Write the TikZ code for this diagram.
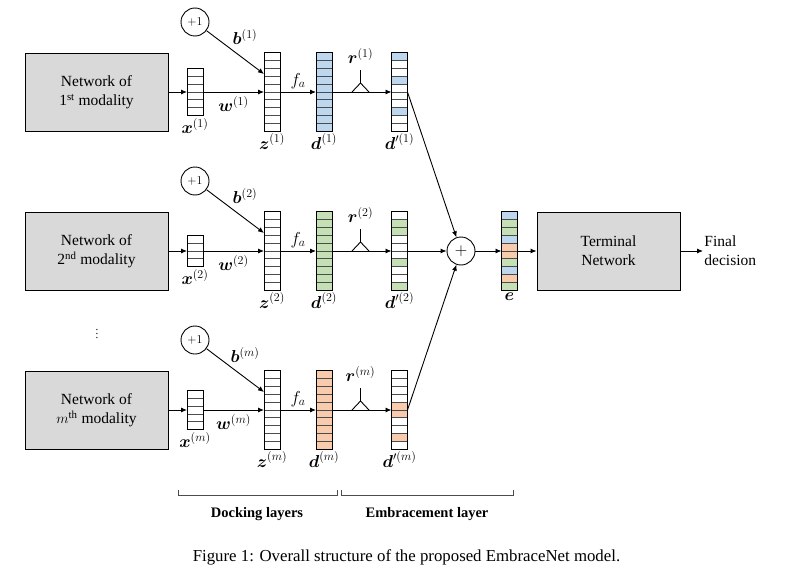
\documentclass[tikz,border=0pt]{standalone}
\usepackage{fontspec}
\setmainfont{Liberation Serif}
\usepackage{amsmath}
\usepackage{bm}
\usetikzlibrary{calc,arrows.meta}

\definecolor{cellblue}{RGB}{189,215,238}
\definecolor{cellgreen}{RGB}{197,224,180}
\definecolor{cellorange}{RGB}{248,203,173}
\definecolor{boxgray}{RGB}{217,217,217}

\begin{document}
\begin{tikzpicture}[x=1pt, y=-1pt, line width=0.9pt, >={Latex[length=6pt,width=5pt]}]
		\tikzstyle{every node}=[align=center, inner sep=1pt, font=\fontsize{15.5}{19}\selectfont]
		\tikzstyle{netbox}=[draw, fill=boxgray, minimum width=143pt, minimum height=78pt]
		\tikzstyle{cellstack}=[minimum width=16pt, inner sep=0pt, outer sep=0pt]
		\tikzstyle{veclabel}=[font=\fontsize{17.5}{20}\selectfont]
		\tikzstyle{biasunit}=[draw, circle, minimum size=28pt, inner sep=0pt, font=\fontsize{12.5}{14}\selectfont]
		\useasboundingbox (0,0) rectangle (789,578);

		\node[draw, circle, minimum size=28pt, inner sep=0pt, veclabel] (plus) at (461, 251) {$+$};

		% one branch per modality: name, height, cells of x, colour, cells kept in d'
		\foreach \br/\by/\nx/\fillc/\keep/\ord in {1/92/6/cellblue/{1,4,8}/{1\textsuperscript{st}},
				2/251/4/cellgreen/{2,3,7,10}/{2\textsuperscript{nd}},
				m/410/5/cellorange/{5,6,9}/{$m$\textsuperscript{th}}} {
			\node[netbox] (net\br) at (96.5, \by) {Network of\\\ord\ modality};
			\node[cellstack, minimum height=\nx*7.9pt] (x\br) at (195, \by) {};
			\node[cellstack, minimum height=79pt] (z\br) at (272, \by) {};
			\node[cellstack, minimum height=79pt, fill=\fillc] (d\br) at (324, \by) {};
			\node[cellstack, minimum height=79pt] (dd\br) at (399.5, \by) {};
			\foreach \c in \keep
				\fill[\fillc] (391.5, {\by-39.5+(\c-1)*7.9}) rectangle (407.5, {\by-39.5+\c*7.9});
			\foreach \s/\n in {x\br/\nx, z\br/10, d\br/10, dd\br/10} {
				\foreach \c in {1,...,\n}
					\draw[black!70] ($(\s.north west)!\c/\n!(\s.south west)$) -- ($(\s.north east)!\c/\n!(\s.south east)$);
				\draw (\s.north west) rectangle (\s.south east);
			}

			\node[biasunit] (one\br) at (195, {\by-70}) {$+1$};
			\coordinate (bin\br) at ($(z\br.west)+(0,-18)$);
			\node[veclabel] (lb\br) at (245, {\by-55}) {$\bm{b}^{(\br)}$};
			\node[veclabel] (lr\br) at (360.5, {\by-36}) {$\bm{r}^{(\br)}$};
			\node[veclabel, below=1pt] (lx\br) at (x\br.south) {$\bm{x}^{(\br)}$};
			\node[veclabel, below=1pt] (lz\br) at (z\br.south) {$\bm{z}^{(\br)}$};
			\node[veclabel, below=1pt] (ld\br) at (d\br.south) {$\bm{d}^{(\br)}$};
			\node[veclabel, below=1pt] (ldd\br) at (dd\br.south) {$\bm{d}'^{(\br)}$};

			\draw [->] (net\br) -- (x\br);
			\draw [->] (x\br) -- node[veclabel, below=3pt] (lw\br) {$\bm{w}^{(\br)}$} (z\br);
			\draw [->] (one\br) -- (bin\br);
			\draw [->] (z\br) -- node[veclabel, above=2pt] (lf\br) {$f_a$} (d\br);
			\draw [->] (d\br) -- (dd\br);
			\draw (352, \by) -- (360.5, {\by-9}) -- (369, \by) (360.5, {\by-9}) -- (360.5, {\by-22});
			\draw [->] (dd\br.east) -- (plus);
		}

		\node[font=\fontsize{11}{12}\selectfont] (dots) at (97, 331) {$\vdots$};

		% fused vector
		\node[cellstack, minimum height=79pt] (e) at (509.5, 251) {};
		\foreach \c/\fc in {1/cellblue, 2/cellgreen, 3/cellgreen, 4/cellblue, 5/cellorange,
				6/cellorange, 7/cellgreen, 8/cellblue, 9/cellorange, 10/cellgreen}
			\fill[\fc] (501.5, {211.5+(\c-1)*7.9}) rectangle (517.5, {211.5+\c*7.9});
		\foreach \c in {1,...,10}
			\draw[black!70] ($(e.north west)!\c/10!(e.south west)$) -- ($(e.north east)!\c/10!(e.south east)$);
		\draw (e.north west) rectangle (e.south east);
		\node[veclabel, below=1pt] (le) at (e.south) {$\bm{e}$};

		\node[netbox] (term) at (608.5, 251) {Terminal\\Network};
		\node[anchor=west, align=left] (final) at (703, 251) {Final\\decision};

		\draw [->] (plus) -- (e);
		\draw [->] (e) -- (term);
		\draw [->] (term) -- (final);

		% layer groups
		\draw[line width=0.7pt, black!70] (178, 490) -- (178, 495) -- (337, 495) -- (337, 490);
		\draw[line width=0.7pt, black!70] (341, 490) -- (341, 495) -- (513, 495) -- (513, 490);
		\node[font=\fontsize{14.5}{17}\selectfont\bfseries] (dock) at (257, 514) {Docking layers};
		\node[font=\fontsize{14.5}{17}\selectfont\bfseries] (embr) at (427, 514) {Embracement layer};

		\node[font=\fontsize{16.8}{19}\selectfont] (caption) at (406.5, 557) {Figure 1: Overall structure of the proposed EmbraceNet model.};
	\end{tikzpicture}
\end{document}
